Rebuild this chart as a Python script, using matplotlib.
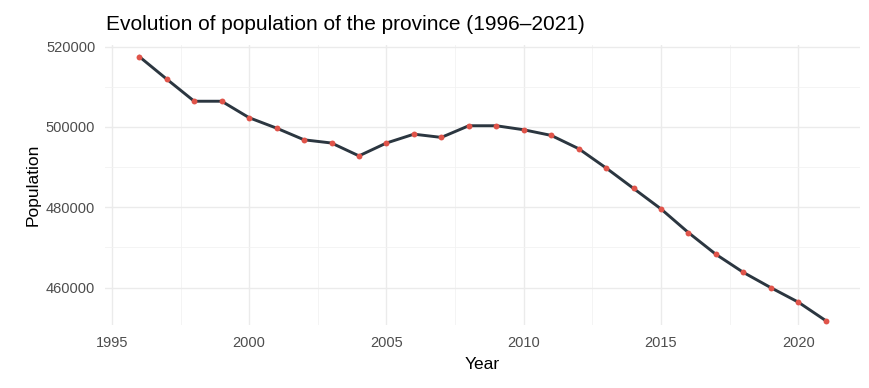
import matplotlib
matplotlib.use("Agg")
import matplotlib.pyplot as plt
from matplotlib.ticker import MultipleLocator, FixedLocator

years = list(range(1996, 2022))
population = [517500, 511900, 506400, 506400, 502300, 499700, 496800, 496000,
              492800, 496000, 498200, 497400, 500300, 500300, 499300, 497900,
              494600, 489800, 484700, 479600, 473700, 468300, 463800, 460000,
              456400, 451800]
x_ticks = [1995, 2000, 2005, 2010, 2015, 2020]
y_ticks = [460000, 480000, 500000, 520000]

plt.rcParams['font.family'] = ['Liberation Sans', 'DejaVu Sans']

fig = plt.figure(figsize=(8.7, 3.88), dpi=100)
ax = fig.add_axes([105/870, 1-325/388, (860-105)/870, (325-45)/388])

ax.plot(years, population, color='#2b3640', lw=2.1, zorder=3)
ax.scatter(years, population, color='#e0544a', s=18, zorder=4, linewidths=0)

xmin, xmax = min(years), max(years)
xr = xmax - xmin
ax.set_xlim(xmin - 0.05*xr, xmax + 0.05*xr)
ax.set_ylim(450700, 520400)

ax.xaxis.set_major_locator(FixedLocator(x_ticks))
ax.xaxis.set_minor_locator(MultipleLocator(2.5))
ax.yaxis.set_major_locator(FixedLocator(y_ticks))
ax.yaxis.set_minor_locator(FixedLocator([450000, 470000, 490000, 510000]))
ax.grid(which='major', color='#ebebeb', lw=1.0, zorder=0)
ax.grid(which='minor', color='#f2f2f2', lw=0.6, zorder=0)
ax.tick_params(which='both', length=0)
ax.tick_params(axis='both', labelsize=10.5, labelcolor='#4d4d4d')
ax.tick_params(axis='x', pad=8)
ax.tick_params(axis='y', pad=7)
for s in ax.spines.values():
    s.set_visible(False)
ax.set_xticklabels([str(t) for t in x_ticks])
ax.set_yticklabels([str(t) for t in y_ticks])

ax.set_xlabel('Year', fontsize=12.5, color='black', labelpad=5)
ax.set_ylabel('Population', fontsize=12.5, color='black', labelpad=4)
fig.text(106/870, 1-24/388, 'Evolution of population of the province (1996\u20132021)',
         fontsize=15, color='black', va='center', ha='left')

fig.savefig('out.png', dpi=100, facecolor='white')
